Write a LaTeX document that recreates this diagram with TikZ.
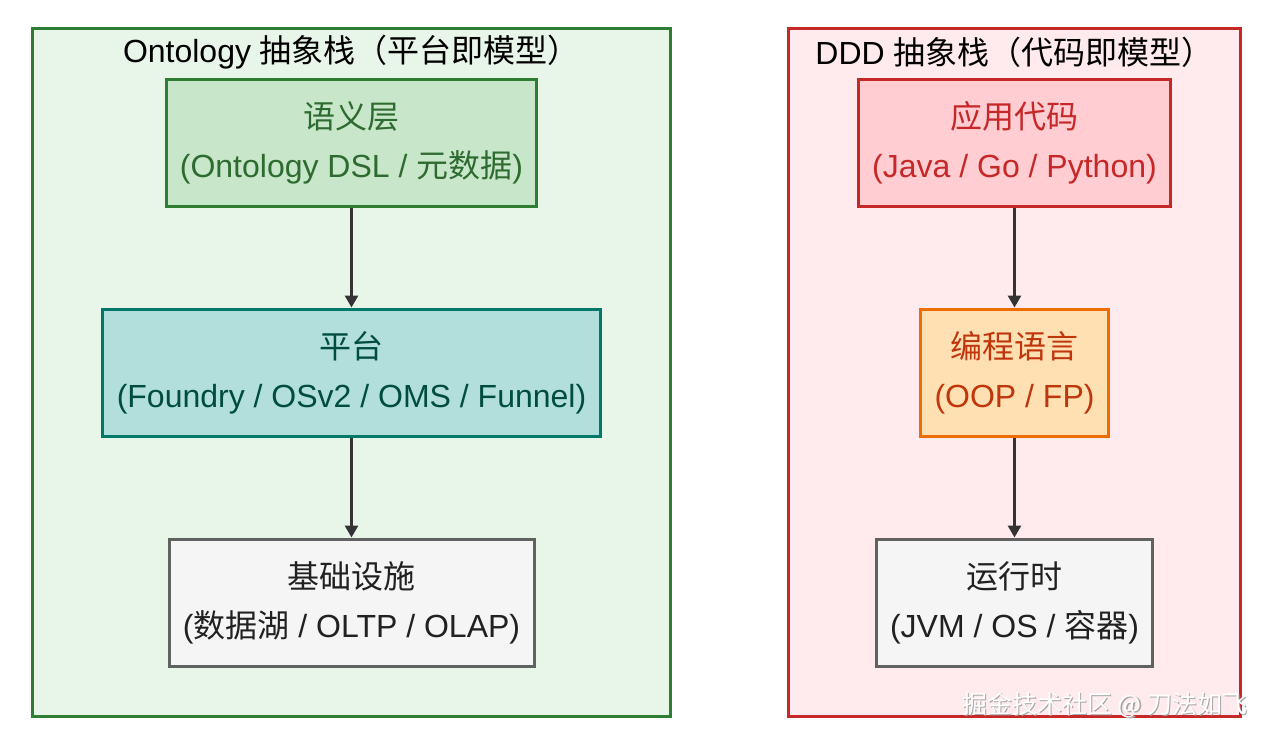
\documentclass[tikz,border=0pt]{standalone}
\usepackage{fontspec}
\setmainfont{Liberation Sans}
\newfontfamily\cjk{Noto Sans CJK SC}
\usetikzlibrary{arrows.meta}
\definecolor{gpanelfill}{HTML}{E8F5E9}
\definecolor{gpaneldraw}{HTML}{2E7D32}
\definecolor{rpanelfill}{HTML}{FFEBEE}
\definecolor{rpaneldraw}{HTML}{C62828}
\definecolor{gfill}{HTML}{C8E6C9}
\definecolor{gdraw}{HTML}{2E7D32}
\definecolor{gtext}{HTML}{2E6B30}
\definecolor{tfill}{HTML}{B2DFDB}
\definecolor{tdraw}{HTML}{00796B}
\definecolor{ttext}{HTML}{004D40}
\definecolor{rfill}{HTML}{FFCDD2}
\definecolor{rdraw}{HTML}{C62828}
\definecolor{rtext}{HTML}{C62828}
\definecolor{ofill}{HTML}{FFE0B2}
\definecolor{odraw}{HTML}{EF6C00}
\definecolor{otext}{HTML}{BF360C}
\definecolor{nfill}{HTML}{F5F5F5}
\definecolor{ndraw}{HTML}{616161}
\definecolor{ntext}{HTML}{212121}
\definecolor{arrowc}{HTML}{333333}
\begin{document}
\begin{tikzpicture}[x=1pt,y=-1pt,
  panel/.style={draw, line width=3pt, inner sep=0pt, minimum height=688pt},
  title/.style={font=\fontsize{32}{36}\selectfont, text=black, inner sep=0pt},
  box/.style={draw, line width=3pt, inner sep=0pt, minimum height=127pt, align=center,
    font=\fontsize{32}{49}\selectfont},
  arr/.style={draw=arrowc, line width=2.8pt, -{Triangle[length=12pt,width=13pt]}, shorten >=0.5pt},
  wm/.style={font=\cjk\fontsize{25}{25}\selectfont, inner sep=0pt, anchor=west}
]
\useasboundingbox (0,0) rectangle (1270,740);
\fill[white] (0,0) rectangle (1270,740);

% panels
\node[panel, fill=gpanelfill, draw=gpaneldraw, minimum width=638pt] (lp) at (351.5,372.5) {};
\node[panel, fill=rpanelfill, draw=rpaneldraw, minimum width=452pt] (rp) at (1014.5,372.5) {};

% titles
\node[title] (lt) at (351.5,52) {Ontology {\cjk 抽象栈（平台即模型）}};
\node[title] (rt) at (1014.5,52) {DDD {\cjk 抽象栈（代码即模型）}};

% left stack
\node[box, fill=gfill, draw=gdraw, text=gtext, minimum width=370pt] (sem) at (351.5,143)
  {{\cjk 语义层}\\(Ontology DSL / {\cjk 元数据})};
\node[box, fill=tfill, draw=tdraw, text=ttext, minimum width=498pt] (plat) at (351.5,373)
  {{\cjk 平台}\\(Foundry / OSv2 / OMS / Funnel)};
\node[box, fill=nfill, draw=ndraw, text=ntext, minimum width=365pt] (infra) at (351.5,603)
  {{\cjk 基础设施}\\({\cjk 数据湖} / OLTP / OLAP)};

% right stack
\node[box, fill=rfill, draw=rdraw, text=rtext, minimum width=312pt] (app) at (1014.5,143)
  {{\cjk 应用代码}\\(Java / Go / Python)};
\node[box, fill=ofill, draw=odraw, text=otext, minimum width=188pt] (lang) at (1014.5,373)
  {{\cjk 编程语言}\\(OOP / FP)};
\node[box, fill=nfill, draw=ndraw, text=ntext, minimum width=276pt] (rt2) at (1014.5,603)
  {{\cjk 运行时}\\(JVM / OS / {\cjk 容器})};

% arrows
\draw[arr] (sem.south) -- (plat.north);
\draw[arr] (plat.south) -- (infra.north);
\draw[arr] (app.south) -- (lang.north);
\draw[arr] (lang.south) -- (rt2.north);

% watermark
\node[wm, text=gray!70] (wms) at (963.2,706.2) {掘金技术社区 @ 刀法如飞};
\node[wm, text=white] (wmt) at (962,705) {掘金技术社区 @ 刀法如飞};
\end{tikzpicture}
\end{document}
